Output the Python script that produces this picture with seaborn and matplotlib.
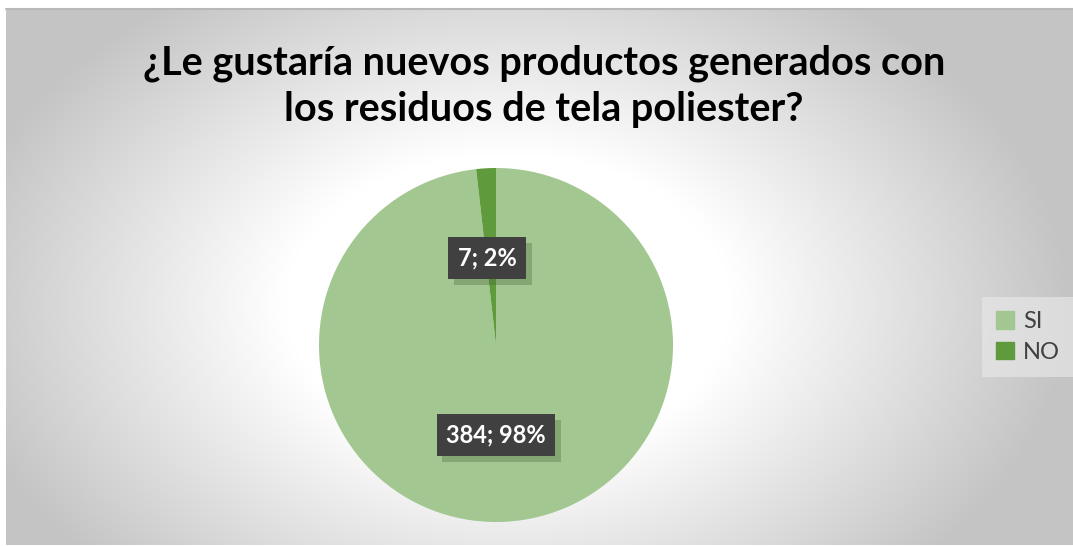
import numpy as np
import matplotlib
matplotlib.use("Agg")
import matplotlib.pyplot as plt
import seaborn as sns
import matplotlib.patheffects as pe

categories = ["SI", "NO"]
values = [384, 7]
percents = ["98%", "2%"]
title = "¿Le gustaría nuevos productos generados con\nlos residuos de tela poliester?"

sns.set_theme(style="white")
plt.rcParams['font.family'] = ['Lato', 'DejaVu Sans']
colors = ["#a2c790", "#5f9a3c"]

W, H = 1073, 546
fig = plt.figure(figsize=(W / 100, H / 100), dpi=100)
fig.patch.set_facecolor("white")

# background chart area with radial gradient
bx0, by0, bx1, by1 = 6, 9, 1073, 545
bg = fig.add_axes([bx0 / W, 1 - by1 / H, (bx1 - bx0) / W, (by1 - by0) / H])
bg.set_axis_off()
ny, nx = 300, 600
yy, xx = np.mgrid[0:ny, 0:nx]
cx, cy = nx * 0.47, ny * 0.55
r = np.sqrt(((xx - cx) / (nx * 0.5)) ** 2 + ((yy - cy) / (ny * 0.5)) ** 2 * 0.55)
t = np.clip((r - 0.42) / (1.05 - 0.42), 0, 1)
val = 1 - t * (1 - 0.77)
img = np.dstack([val, val, val])
bg.imshow(img, aspect="auto", extent=[0, 1, 0, 1], origin="upper", interpolation="bilinear")
bg.plot([0, 1], [1, 1], color="#b8b8b8", lw=1.5, transform=bg.transAxes, clip_on=False)

# pie
cxp, cyp, rad = 496, 345, 177
ax = fig.add_axes([(cxp - rad) / W, 1 - (cyp + rad) / H, 2 * rad / W, 2 * rad / H])
ax.set_axis_off()
wedges, _ = ax.pie(values, colors=colors, startangle=90, counterclock=False,
                   wedgeprops=dict(linewidth=0))
ax.set_xlim(-1, 1)
ax.set_ylim(-1, 1)

label_pos = [(0.0, -0.51), (-0.05, 0.49)]
for v, p, (lx, ly) in zip(values, percents, label_pos):
    tx = ax.text(lx, ly, f"{v}; {p}", ha="center", va="center", color="white",
                 fontsize=17, fontweight="bold",
                 bbox=dict(boxstyle="square,pad=0.4", fc="#404040", ec="none"))
    tx.get_bbox_patch().set_path_effects([
        pe.SimplePatchShadow(offset=(4, -4), shadow_rgbFace="#4a6a3a", alpha=0.35),
        pe.Normal()])

fig.text(0.507, 0.842, title, ha="center", va="center", fontsize=28.5,
         fontweight="bold", color="#000000", linespacing=1.3)

handles = [plt.Rectangle((0, 0), 1, 1, color=c) for c in colors]
leg = fig.legend(handles, categories, loc="center left", bbox_to_anchor=(977 / W, 1 - 337 / H),
                 frameon=True, fontsize=17, handlelength=0.75, handleheight=0.75,
                 handletextpad=0.4, labelspacing=0.4, borderpad=0.3)
leg.get_frame().set_facecolor("#e6e6e6")
leg.get_frame().set_edgecolor("none")
leg.get_frame().set_boxstyle("square")
leg.get_frame().set_alpha(0.7)
for txt in leg.get_texts():
    txt.set_color("#404040")

fig.savefig("out.png", dpi=100)
